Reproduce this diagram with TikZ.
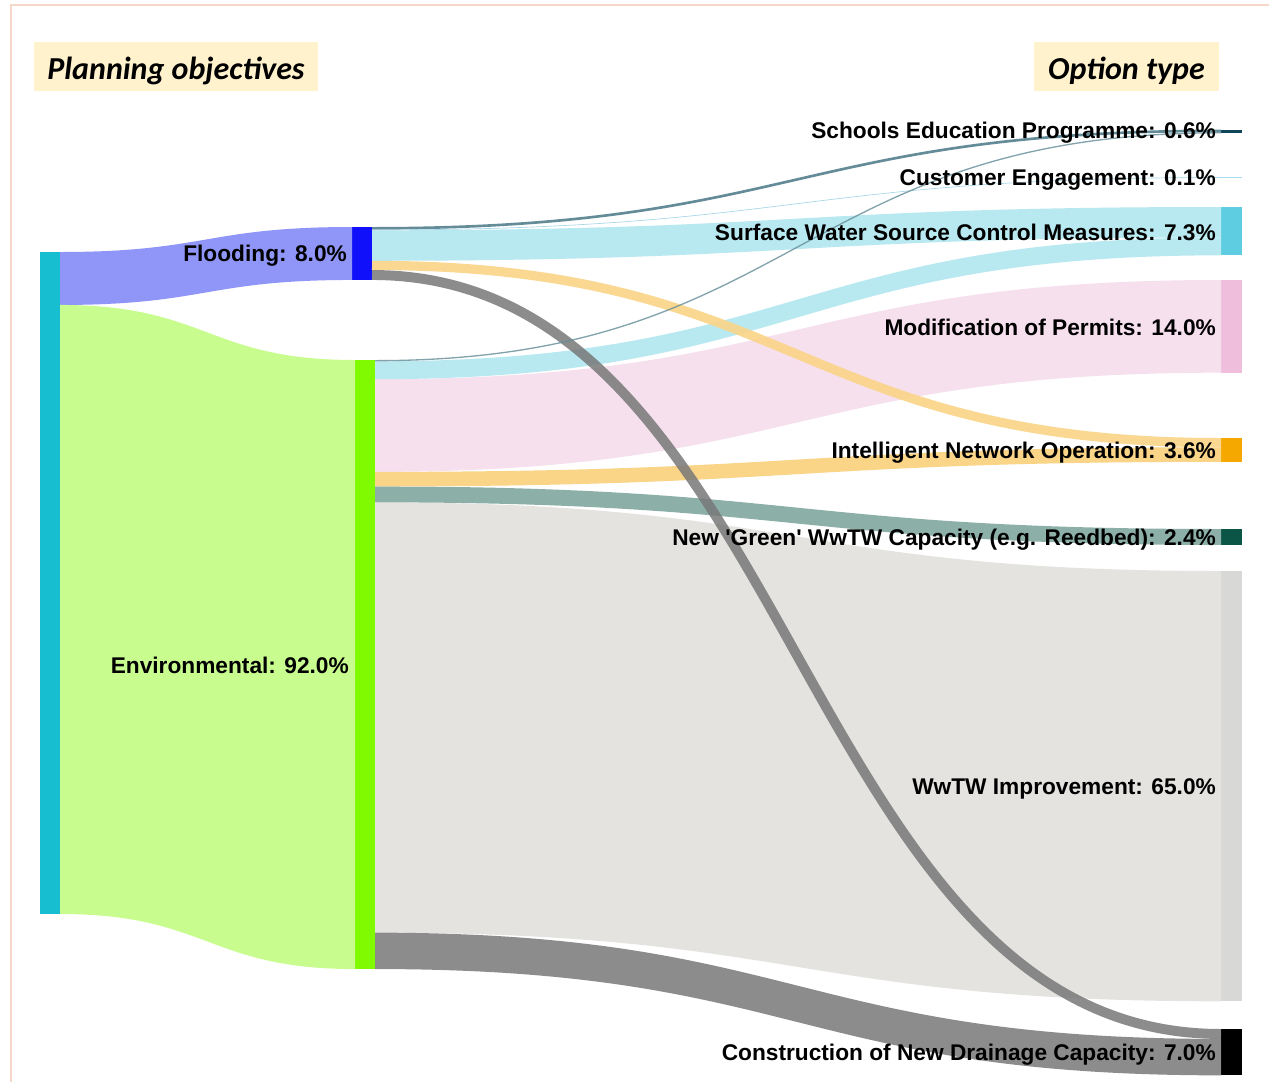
\documentclass[tikz,border=0pt]{standalone}
\usepackage{fontspec}
\usetikzlibrary{calc}
\newfontfamily\labfont{Liberation Sans}
\newfontfamily\headfont{Carlito}

% node colours
\definecolor{objcol}{RGB}{23,190,207}
\definecolor{floodcol}{RGB}{16,16,250}
\definecolor{envcol}{RGB}{127,250,0}
\definecolor{schcol}{RGB}{15,70,90}
\definecolor{custcol}{RGB}{170,222,238}
\definecolor{swcol}{RGB}{95,205,225}
\definecolor{permcol}{RGB}{238,190,220}
\definecolor{inocol}{RGB}{245,168,0}
\definecolor{greencol}{RGB}{10,85,70}
\definecolor{wwtwcol}{RGB}{216,216,214}
\definecolor{conscol}{RGB}{0,0,0}
% link colours
\definecolor{floodlink}{RGB}{144,150,248}
\definecolor{envlink}{RGB}{200,252,143}
\definecolor{schlink}{RGB}{100,140,152}
\definecolor{custlink}{RGB}{165,215,232}
\definecolor{swlink}{RGB}{185,233,240}
\definecolor{permlink}{RGB}{246,224,238}
\definecolor{inolink}{RGB}{250,212,135}
\definecolor{greenlink}{RGB}{140,176,168}
\definecolor{wwtwlink}{RGB}{228,227,224}
\definecolor{conslink}{RGB}{120,120,120}
% frame and headings
\definecolor{framecol}{RGB}{246,216,200}
\definecolor{headfill}{RGB}{255,242,204}

% pixels per percent of flow
\newcommand\pxper{6.62}

% a filled flow band: source node, offset (%), target node, offset (%), width (%), style
\newcommand\sklink[6]{%
  \fill[#6] let \p1=($(#1.north east)+(0,#2*\pxper)$),
                \p2=($(#3.north west)+(0,#4*\pxper)$),
                \p3=($(\p1)+(0,#5*\pxper)$),
                \p4=($(\p2)+(0,#5*\pxper)$),
                \p5=($(\p1)!0.5!(\p2)$) in
    (\p1) .. controls (\x5,\y1) and (\x5,\y2) .. (\p2) -- (\p4)
          .. controls (\x5,\y4) and (\x5,\y3) .. (\p3) -- cycle;
}
% a narrow flow drawn as a stroke of constant width along its centre line
\newcommand\sklinkline[6]{%
  \draw[#6, line width={#5*\pxper pt}]
    let \p1=($(#1.north east)+(0,#2*\pxper+0.5*#5*\pxper)$),
        \p2=($(#3.north west)+(0,#4*\pxper+0.5*#5*\pxper)$),
        \p5=($(\p1)!0.5!(\p2)$) in
    (\p1) .. controls (\x5,\y1) and (\x5,\y2) .. (\p2);
}

\tikzset{
  bar/.style={anchor=north west, inner sep=0pt, outer sep=0pt, draw=none,
              minimum width=20pt, minimum height={#1*\pxper pt}},
  rbar/.style={bar=#1, minimum width=21pt},
  lab/.style={anchor=base east, inner sep=0pt, text=black,
              font=\labfont\bfseries\fontsize{22.7}{26}\selectfont},
  head/.style={fill=headfill, inner sep=0pt, minimum height=49pt,
               text height=25pt, text depth=0pt,
               font=\headfont\bfseries\itshape\fontsize{32}{36}\selectfont},
}

\begin{document}
\begin{tikzpicture}[x=1pt, y=-1pt]
\useasboundingbox (0,0) rectangle (1269,1082);
\fill[white] (0,0) rectangle (1269,1082);
\draw[framecol, line width=1.5pt] (11,1082) -- (11,5) -- (1269,5);

% headings
\node[head, minimum width=284pt] (hleft) at (176,66.5) {Planning objectives};
\node[head, minimum width=185pt] (hright) at (1126.5,66.5) {Option type};

% nodes
\node[bar=100, fill=objcol] (obj) at (40,252) {};
\node[bar=8, fill=floodcol] (flood) at (352,227) {};
\node[bar=92, fill=envcol] (env) at (355,360) {};
\node[rbar=0.6, fill=schcol] (sch) at (1221,129.5) {};
\node[rbar=0.1, fill=custcol] (cust) at (1221,177.2) {};
\node[rbar=7.3, fill=swcol] (sw) at (1221,207) {};
\node[rbar=14, fill=permcol] (perm) at (1221,280) {};
\node[rbar=3.6, fill=inocol] (ino) at (1221,438) {};
\node[rbar=2.4, fill=greencol] (green) at (1221,529) {};
\node[rbar=65, fill=wwtwcol] (wwtw) at (1221,571) {};
\node[rbar=7, fill=conscol] (cons) at (1221,1029) {};

% flows into the objectives
\sklink{obj}{0}{flood}{0}{8}{floodlink}
\sklink{obj}{8}{env}{0}{92}{envlink}

% flows from Environmental
\sklink{env}{21.5}{wwtw}{0}{65}{wwtwlink}
\sklink{env}{2.9}{perm}{0}{14}{permlink}
\sklink{env}{0.2}{sw}{4.6}{2.7}{swlink}
\sklink{env}{19.1}{green}{0}{2.4}{greenlink}
\sklink{env}{16.9}{ino}{1.4}{2.2}{inolink}
\sklink{env}{86.5}{cons}{1.5}{5.5}{conslink, fill opacity=0.85}

% flows from Flooding
\sklink{flood}{0.5}{sw}{0}{4.6}{swlink}
\sklinkline{flood}{5.1}{ino}{0}{1.4}{inolink, draw opacity=0.9}
\sklinkline{flood}{6.5}{cons}{0}{1.5}{conslink, draw opacity=0.85}
\sklinkline{flood}{0}{sch}{0}{0.4}{schlink}
\sklinkline{flood}{0.4}{cust}{0}{0.1}{custlink}
\sklinkline{env}{0}{sch}{0.4}{0.2}{schlink, draw opacity=0.8}

% labels
\node[lab] (lflood) at (347,261) {Flooding: 8.0\%};
\node[lab] (lenv) at (349,673) {Environmental: 92.0\%};
\node[lab] (lsch) at (1216,138.5) {Schools Education Programme: 0.6\%};
\node[lab] (lcust) at (1216,185) {Customer Engagement: 0.1\%};
\node[lab] (lsw) at (1216,240) {Surface Water Source Control Measures: 7.3\%};
\node[lab] (lperm) at (1216,335) {Modification of Permits: 14.0\%};
\node[lab] (lino) at (1216,458) {Intelligent Network Operation: 3.6\%};
\node[lab] (lgreen) at (1216,545) {New 'Green' WwTW Capacity (e.g. Reedbed): 2.4\%};
\node[lab] (lwwtw) at (1216,794) {WwTW Improvement: 65.0\%};
\node[lab] (lcons) at (1216,1060) {Construction of New Drainage Capacity: 7.0\%};
\end{tikzpicture}
\end{document}
